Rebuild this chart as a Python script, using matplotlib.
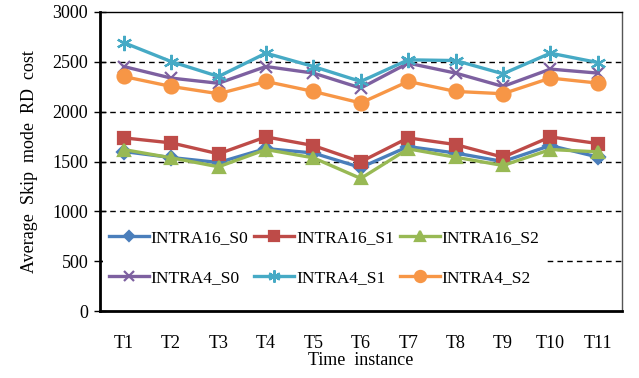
import matplotlib
matplotlib.use("Agg")
import matplotlib.pyplot as plt

plt.rcParams['font.family'] = ['Liberation Serif', 'DejaVu Serif']

categories = ["T1", "T2", "T3", "T4", "T5", "T6", "T7", "T8", "T9", "T10", "T11"]

intra16_s0 = [1600, 1540, 1490, 1630, 1585, 1440, 1650, 1585, 1500, 1660, 1545]
intra16_s1 = [1737, 1687, 1577, 1747, 1660, 1497, 1737, 1670, 1543, 1747, 1680]
intra16_s2 = [1620, 1537, 1447, 1620, 1537, 1330, 1627, 1543, 1460, 1620, 1597]
intra4_s0 = [2453, 2337, 2285, 2453, 2387, 2237, 2487, 2387, 2253, 2427, 2387]
intra4_s1 = [2693, 2503, 2353, 2587, 2453, 2303, 2520, 2513, 2380, 2587, 2493]
intra4_s2 = [2353, 2253, 2180, 2303, 2203, 2087, 2303, 2203, 2180, 2337, 2287]

series = [
    ("INTRA16_S0", intra16_s0, "#4A7EBB", "D", 7),
    ("INTRA16_S1", intra16_s1, "#BE4B48", "s", 9),
    ("INTRA16_S2", intra16_s2, "#98B954", "^", 9),
    ("INTRA4_S0", intra4_s0, "#7D60A0", "x", 9),
    ("INTRA4_S1", intra4_s1, "#46AAC5", (6, 2, 0), 11),
    ("INTRA4_S2", intra4_s2, "#F79646", "o", 10),
]

fig = plt.figure(figsize=(6.39, 3.78), dpi=100)
ax = fig.add_axes([100 / 639, 1 - 311 / 378, 521.5 / 639, 299 / 378])

x = list(range(len(categories)))
lines = []
for name, vals, color, marker, ms in series:
    ln, = ax.plot(x, vals, color=color, lw=2.4, marker=marker, markersize=ms,
                  markeredgewidth=1.6, markeredgecolor=color, markerfacecolor=color,
                  label=name, solid_joinstyle="round")
    lines.append(ln)

ax.set_xlim(-0.5, len(categories) - 0.5)
ax.set_ylim(0, 3000)
ax.set_yticks([0, 500, 1000, 1500, 2000, 2500, 3000])
ax.set_xticks(x)
ax.set_xticklabels(categories)
ax.tick_params(axis="x", length=0, pad=17, labelsize=13)
ax.tick_params(axis="y", direction="inout", length=9, width=1, labelsize=13, pad=4)

for yv in [500, 1000, 1500, 2000, 2500]:
    ax.axhline(yv, color="black", lw=1, ls=(0, (4, 3)), zorder=0)

ax.spines["left"].set_linewidth(2)
ax.spines["bottom"].set_linewidth(2)
ax.spines["top"].set_linewidth(1)
ax.spines["top"].set_color("black")
ax.spines["right"].set_linewidth(1)
ax.spines["right"].set_color("#555555")

ax.set_xlabel("Time  instance", fontsize=13, labelpad=0)
ax.set_ylabel("Average  Skip  mode  RD  cost", fontsize=13, labelpad=10)

# legend filled row by row: three INTRA16 entries above three INTRA4 entries
order = [0, 3, 1, 4, 2, 5]
leg = ax.legend([lines[i] for i in order], [series[i][0] for i in order],
                ncol=3, loc="upper left", bbox_to_anchor=(0.0, 0.30),
                fontsize=12.5, frameon=True, framealpha=1, edgecolor="white",
                fancybox=False, handlelength=2.3, handletextpad=0.1,
                columnspacing=0.35, labelspacing=1.35, borderpad=0.3,
                borderaxespad=0.2, markerscale=0.8)
leg.get_frame().set_linewidth(0)

fig.savefig("out.png", dpi=100)
